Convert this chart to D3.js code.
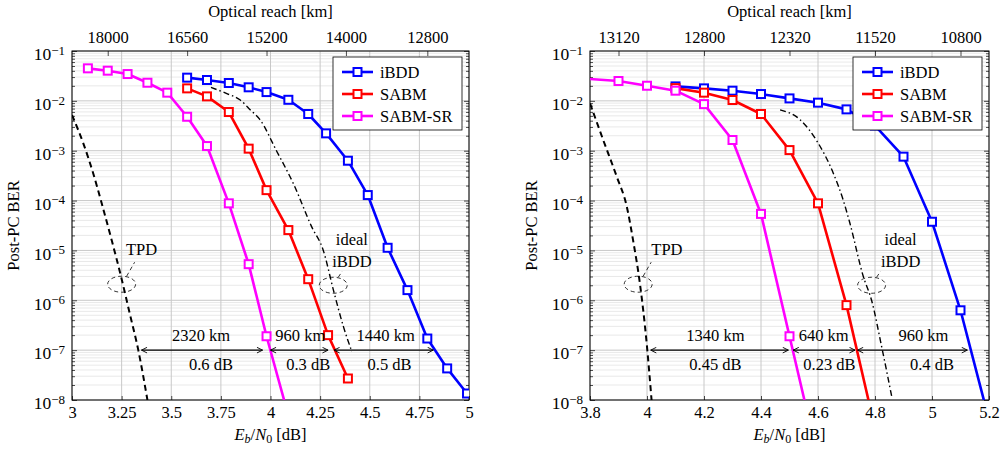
<!DOCTYPE html>
<html><head><meta charset="utf-8">
<script src="https://cdn.jsdelivr.net/npm/d3@7"></script>
<style>
body{margin:0;background:#fff}
svg text{font-family:"Liberation Serif","Times New Roman",Tinos,"DejaVu Serif",serif !important;fill:#000}
</style>
</head><body>
<svg id="c" width="1006" height="449"></svg>
<script>
// ---------- shared ----------
const seriesNames = ["iBDD", "SABM", "SABM-SR"];
const seriesColors = ["#0000ff", "#ff0000", "#ff00ff"];
const yMajorExps = [-1, -2, -3, -4, -5, -6, -7, -8];

// ---------- left panel data ----------
const L_xTicks = [3, 3.25, 3.5, 3.75, 4, 4.25, 4.5, 4.75, 5];
const L_xTickLabels = ["3", "3.25", "3.5", "3.75", "4", "4.25", "4.5", "4.75", "5"];
const L_topTickPos = [3.18, 3.58, 3.98, 4.38, 4.79];
const L_topTickLabels = ["18000", "16560", "15200", "14000", "12800"];
const L_iBDD_x = [3.58, 3.68, 3.79, 3.89, 3.98, 4.09, 4.19, 4.28, 4.39, 4.49, 4.59, 4.69, 4.79, 4.89, 4.99];
const L_iBDD_y = [2.92e-2, 2.62e-2, 2.28e-2, 1.87e-2, 1.50e-2, 1.05e-2, 5.45e-3, 2.23e-3, 6.3e-4, 1.29e-4, 1.13e-5, 1.6e-6, 1.71e-7, 4.3e-8, 1.35e-8];
const L_SABM_x = [3.58, 3.68, 3.79, 3.89, 3.98, 4.09, 4.19, 4.29, 4.39];
const L_SABM_y = [1.78e-2, 1.23e-2, 5.97e-3, 1.1e-3, 1.62e-4, 2.56e-5, 2.65e-6, 2.0e-7, 2.7e-8];
const L_SR_x = [3.08, 3.18, 3.28, 3.38, 3.48, 3.58, 3.68, 3.79, 3.89, 3.98, 4.08];
const L_SR_y = [4.49e-2, 4.03e-2, 3.45e-2, 2.31e-2, 1.46e-2, 4.8e-3, 1.24e-3, 8.8e-5, 5.3e-6, 1.9e-7, 6.8e-9];
const L_TPD_x = [3.0, 3.057, 3.107, 3.15, 3.2, 3.247, 3.29, 3.334, 3.38];
const L_TPD_y = [5.2e-3, 1.4e-3, 3.5e-4, 8.7e-5, 1.6e-5, 3.0e-6, 5.6e-7, 1.0e-7, 1.0e-8];
const L_ideal_x = [3.70, 3.78, 3.846, 3.90, 3.947, 4.03, 4.115, 4.207, 4.266, 4.317, 4.367, 4.41];
const L_ideal_y = [1.86e-2, 1.4e-2, 1.05e-2, 6.5e-3, 4.2e-3, 1.0e-3, 2.2e-4, 3.0e-5, 1.0e-5, 1.6e-6, 3.0e-7, 9.3e-8];
const L_arrows = [[3.35, 3.96], [4.0, 4.29], [4.32, 4.82]];
const L_kmLabels = ["2320 km", "960 km", "1440 km"];
const L_kmLabelX = [3.65, 4.15, 4.58];
const L_dbLabels = ["0.6 dB", "0.3 dB", "0.5 dB"];
const L_dbLabelX = [3.70, 4.19, 4.60];
const L_ellipses = [{x: 3.25, y: 2.1e-6, label: ["TPD"], lx: 3.35}, {x: 4.316, y: 2.0e-6, label: ["ideal", "iBDD"], lx: 4.41}];

// ---------- right panel data ----------
const R_xTicks = [3.8, 4, 4.2, 4.4, 4.6, 4.8, 5, 5.2];
const R_xTickLabels = ["3.8", "4", "4.2", "4.4", "4.6", "4.8", "5", "5.2"];
const R_topTickPos = [3.9, 4.2, 4.5, 4.8, 5.1];
const R_topTickLabels = ["13120", "12800", "12320", "11520", "10800"];
const R_iBDD_x = [4.1, 4.2, 4.3, 4.4, 4.5, 4.6, 4.7, 4.8, 4.9, 5.0, 5.1, 5.2];
const R_iBDD_y = [1.95e-2, 1.78e-2, 1.6e-2, 1.37e-2, 1.12e-2, 9.2e-3, 6.75e-3, 3.2e-3, 7.6e-4, 3.76e-5, 6.3e-7, 4e-9];
const R_SABM_x = [4.1, 4.2, 4.3, 4.4, 4.5, 4.6, 4.7, 4.8];
const R_SABM_y = [1.8e-2, 1.46e-2, 1.04e-2, 5.45e-3, 1.03e-3, 8.8e-5, 8.0e-7, 2.7e-9];
const R_SR_x = [3.7, 3.9, 4.0, 4.1, 4.2, 4.3, 4.4, 4.5, 4.6];
const R_SR_y = [3.0e-2, 2.5e-2, 2.01e-2, 1.6e-2, 8.6e-3, 1.64e-3, 5.4e-5, 1.9e-7, 6.8e-10];
const R_TPD_x = [3.8, 3.847, 3.894, 3.929, 3.952, 3.975, 3.999, 4.016];
const R_TPD_y = [8.9e-3, 1.6e-3, 3.0e-4, 7.6e-5, 1.5e-5, 2.2e-6, 1.35e-7, 1.0e-8];
const R_ideal_x = [4.467, 4.537, 4.595, 4.654, 4.689, 4.712, 4.759, 4.788, 4.823, 4.859];
const R_ideal_y = [6.6e-3, 4.2e-3, 1.6e-3, 3.5e-4, 1.0e-4, 3.5e-5, 3.0e-6, 1.0e-6, 1.2e-7, 1.15e-8];
const R_arrows = [[4.013, 4.496], [4.513, 4.73], [4.739, 5.124]];
const R_kmLabels = ["1340 km", "640 km", "960 km"];
const R_kmLabelX = [4.24, 4.62, 4.97];
const R_dbLabels = ["0.45 dB", "0.23 dB", "0.4 dB"];
const R_dbLabelX = [4.24, 4.64, 5.0];
const R_ellipses = [{x: 3.969, y: 2.1e-6, label: ["TPD"], lx: 4.07}, {x: 4.788, y: 2.0e-6, label: ["ideal", "iBDD"], lx: 4.89}];

const FONT = '"Liberation Serif","Times New Roman",Tinos,"DejaVu Serif",serif';
const FS = 16.5;
const svg = d3.select("#c").attr("font-family", FONT);
const defs = svg.append("defs");
defs.append("marker").attr("id", "ah").attr("viewBox", "0 0 10 10").attr("refX", 9).attr("refY", 5)
  .attr("markerWidth", 7).attr("markerHeight", 7).attr("orient", "auto-start-reverse")
  .attr("markerUnits", "userSpaceOnUse")
  .append("path").attr("d", "M1,1 L9,5 L1,9").attr("fill", "none").attr("stroke", "#000").attr("stroke-width", 1.3);

function panel(cfg) {
  const top = 51, bot = 400;
  const x = d3.scaleLinear().domain(cfg.xDomain).range([cfg.left, cfg.right]);
  const y = d3.scaleLog().domain([1e-8, 1e-1]).range([bot, top]);
  const g = svg.append("g");
  const clipId = "clip" + cfg.id;
  defs.append("clipPath").attr("id", clipId).append("rect")
    .attr("x", cfg.left).attr("y", top).attr("width", cfg.right - cfg.left).attr("height", bot - top);

  // grid
  const minors = [];
  for (let e = -8; e < -1; e++) for (let m = 2; m <= 9; m++) minors.push(m * Math.pow(10, e));
  const majors = yMajorExps.map(e => Math.pow(10, e));
  g.append("g").selectAll("line").data(minors).join("line")
    .attr("x1", cfg.left).attr("x2", cfg.right).attr("y1", d => y(d)).attr("y2", d => y(d))
    .attr("stroke", "#e3e3e3").attr("stroke-width", 0.8);
  g.append("g").selectAll("line").data(majors).join("line")
    .attr("x1", cfg.left).attr("x2", cfg.right).attr("y1", d => y(d)).attr("y2", d => y(d))
    .attr("stroke", "#c8c8c8").attr("stroke-width", 1);
  g.append("g").selectAll("line").data(cfg.xTicks).join("line")
    .attr("x1", d => x(d)).attr("x2", d => x(d)).attr("y1", top).attr("y2", bot)
    .attr("stroke", "#c8c8c8").attr("stroke-width", 1);

  // axes
  g.append("g").attr("transform", `translate(0,${bot})`)
    .call(d3.axisBottom(x).tickValues(cfg.xTicks).tickFormat((d, i) => cfg.xTickLabels[i]).tickSize(-4).tickPadding(6));
  g.append("g").attr("transform", `translate(0,${top})`)
    .call(d3.axisTop(x).tickValues(cfg.topTickPos).tickFormat((d, i) => cfg.topTickLabels[i]).tickSize(-5).tickPadding(8));
  const ayL = g.append("g").attr("transform", `translate(${cfg.left},0)`)
    .call(d3.axisLeft(y).tickValues(majors).tickSize(-5).tickPadding(7).tickFormat(d => ""));
  g.append("g").attr("transform", `translate(${cfg.left},0)`)
    .call(d3.axisLeft(y).tickValues(minors).tickSize(-3).tickFormat(""));
  g.append("g").attr("transform", `translate(${cfg.right},0)`)
    .call(d3.axisRight(y).tickValues(majors).tickSize(-5).tickFormat(""));
  g.append("g").attr("transform", `translate(${cfg.right},0)`)
    .call(d3.axisRight(y).tickValues(minors).tickSize(-3).tickFormat(""));
  g.selectAll(".domain").remove();
  g.selectAll("g").filter(function() { return this.getAttribute("font-family"); }).attr("font-family", FONT);
  g.selectAll(".tick line").attr("stroke", "#000").attr("stroke-width", 0.7);
  g.selectAll(".tick text").attr("font-size", FS);
  ayL.selectAll(".tick text").each(function(d) {
    const t = d3.select(this);
    t.text("").attr("dy", "0.5em").attr("font-size", 17.5);
    t.append("tspan").text("10");
    t.append("tspan").attr("dy", "-0.42em").attr("font-size", 13).text("\u2212" + Math.round(-Math.log10(d)));
  });

  // frame
  g.append("rect").attr("x", cfg.left).attr("y", top).attr("width", cfg.right - cfg.left).attr("height", bot - top)
    .attr("fill", "none").attr("stroke", "#000").attr("stroke-width", 1);

  // titles
  const cx = (cfg.left + cfg.right) / 2;
  g.append("text").attr("x", cx).attr("y", 17).attr("text-anchor", "middle").attr("font-size", FS).text("Optical reach [km]");
  const xt = g.append("text").attr("x", cx).attr("y", 440).attr("text-anchor", "middle").attr("font-size", FS);
  xt.append("tspan").attr("font-style", "italic").text("E");
  xt.append("tspan").attr("font-style", "italic").attr("font-size", 12).attr("dy", 3).text("b");
  xt.append("tspan").attr("dy", -3).text("/");
  xt.append("tspan").attr("font-style", "italic").text("N");
  xt.append("tspan").attr("font-size", 12).attr("dy", 3).text("0");
  xt.append("tspan").attr("dy", -3).text(" [dB]");
  g.append("text").attr("transform", `translate(${cfg.left - 53},${(top + bot) / 2}) rotate(-90)`)
    .attr("text-anchor", "middle").attr("font-size", FS).text("Post-PC BER");

  const plot = g.append("g").attr("clip-path", `url(#${clipId})`);
  const line = d3.line().x(d => x(d[0])).y(d => y(d[1]));
  const smooth = d3.line().curve(d3.curveMonotoneX).x(d => x(d[0])).y(d => y(d[1]));
  plot.append("path").datum(d3.zip(cfg.tpdX, cfg.tpdY)).attr("d", smooth)
    .attr("fill", "none").attr("stroke", "#000").attr("stroke-width", 2).attr("stroke-dasharray", "6,4");
  plot.append("path").datum(d3.zip(cfg.idealX, cfg.idealY)).attr("d", smooth)
    .attr("fill", "none").attr("stroke", "#000").attr("stroke-width", 1.4).attr("stroke-dasharray", "6,3,1.5,3");

  cfg.series.forEach((s, i) => {
    const pts = d3.zip(s.x, s.y);
    plot.append("path").datum(pts).attr("d", line).attr("fill", "none")
      .attr("stroke", seriesColors[i]).attr("stroke-width", 2.6).attr("stroke-linejoin", "round");
    plot.append("g").selectAll("rect").data(pts).join("rect")
      .attr("x", d => x(d[0]) - 4).attr("y", d => y(d[1]) - 4).attr("width", 8).attr("height", 8)
      .attr("fill", "#fff").attr("stroke", seriesColors[i]).attr("stroke-width", 2);
  });

  // annotations
  const ay = y(1e-7);
  cfg.arrows.forEach((a, i) => {
    g.append("line").attr("x1", x(a[0])).attr("x2", x(a[1])).attr("y1", ay).attr("y2", ay)
      .attr("stroke", "#000").attr("stroke-width", 1.1)
      .attr("marker-start", "url(#ah)").attr("marker-end", "url(#ah)");
    g.append("text").attr("x", x(cfg.kmX[i])).attr("y", ay - 9).attr("text-anchor", "middle").attr("font-size", FS).text(cfg.kmLabels[i]);
    g.append("text").attr("x", x(cfg.dbX[i])).attr("y", ay + 20).attr("text-anchor", "middle").attr("font-size", FS).text(cfg.dbLabels[i]);
  });
  cfg.ellipses.forEach(e => {
    const ex = x(e.x), ey = y(e.y);
    g.append("ellipse").attr("cx", ex).attr("cy", ey).attr("rx", 14).attr("ry", 8)
      .attr("fill", "none").attr("stroke", "#000").attr("stroke-width", 0.8).attr("stroke-dasharray", "4,3");
    const single = e.label.length === 1;
    g.append("line").attr("x1", ex + 5).attr("y1", ey - 8).attr("x2", ex + (single ? 13 : 9)).attr("y2", ey - (single ? 22 : 14))
      .attr("stroke", "#000").attr("stroke-width", 0.8).attr("stroke-dasharray", "4,3");
    e.label.forEach((l, k) => {
      const base = single ? ey - 29 : ey - 18 - (e.label.length - 1 - k) * 22;
      g.append("text").attr("x", x(e.lx)).attr("y", base)
        .attr("text-anchor", "middle").attr("font-size", FS).text(l);
    });
  });

  // legend
  const lx = cfg.right - 136, ly = 57;
  const lg = g.append("g");
  lg.append("rect").attr("x", lx).attr("y", ly).attr("width", 129).attr("height", 73)
    .attr("fill", "#fff").attr("stroke", "#000").attr("stroke-width", 0.8);
  seriesNames.forEach((n, i) => {
    const yy = ly + 15 + i * 22;
    lg.append("line").attr("x1", lx + 9).attr("x2", lx + 40).attr("y1", yy).attr("y2", yy)
      .attr("stroke", seriesColors[i]).attr("stroke-width", 2.6);
    lg.append("rect").attr("x", lx + 20.5).attr("y", yy - 4).attr("width", 8).attr("height", 8)
      .attr("fill", "#fff").attr("stroke", seriesColors[i]).attr("stroke-width", 2);
    lg.append("text").attr("x", lx + 47).attr("y", yy + 5.5).attr("font-size", FS).text(n);
  });
}

panel({id: "L", left: 72, right: 469, xDomain: [3, 5], xTicks: L_xTicks, xTickLabels: L_xTickLabels,
  topTickPos: L_topTickPos, topTickLabels: L_topTickLabels,
  series: [{x: L_iBDD_x, y: L_iBDD_y}, {x: L_SABM_x, y: L_SABM_y}, {x: L_SR_x, y: L_SR_y}],
  tpdX: L_TPD_x, tpdY: L_TPD_y, idealX: L_ideal_x, idealY: L_ideal_y,
  arrows: L_arrows, kmLabels: L_kmLabels, kmX: L_kmLabelX, dbLabels: L_dbLabels, dbX: L_dbLabelX, ellipses: L_ellipses});
panel({id: "R", left: 590, right: 989, xDomain: [3.8, 5.2], xTicks: R_xTicks, xTickLabels: R_xTickLabels,
  topTickPos: R_topTickPos, topTickLabels: R_topTickLabels,
  series: [{x: R_iBDD_x, y: R_iBDD_y}, {x: R_SABM_x, y: R_SABM_y}, {x: R_SR_x, y: R_SR_y}],
  tpdX: R_TPD_x, tpdY: R_TPD_y, idealX: R_ideal_x, idealY: R_ideal_y,
  arrows: R_arrows, kmLabels: R_kmLabels, kmX: R_kmLabelX, dbLabels: R_dbLabels, dbX: R_dbLabelX, ellipses: R_ellipses});
</script>
</body></html>
